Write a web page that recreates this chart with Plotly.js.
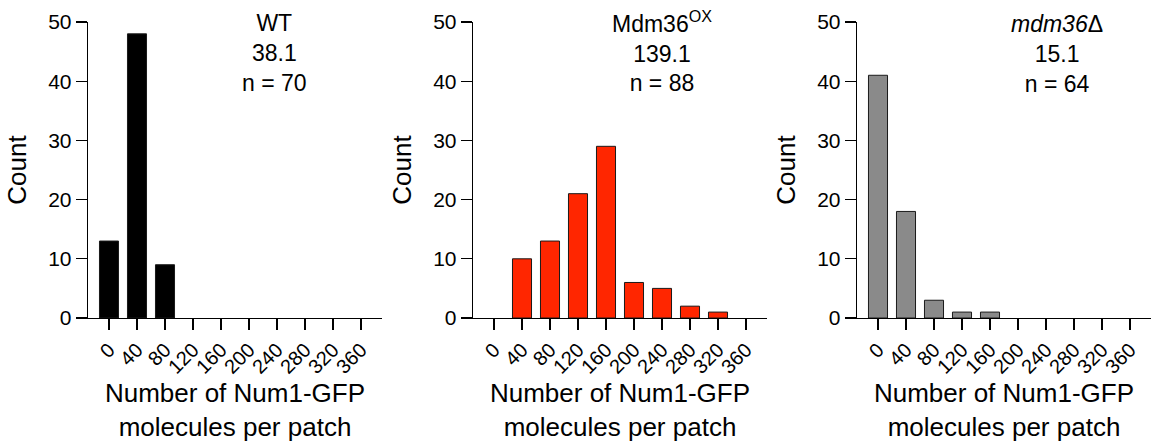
<!DOCTYPE html>
<html>
<head>
<meta charset="utf-8">
<script src="https://cdn.plot.ly/plotly-3.0.1.min.js"></script>
<style>html,body{margin:0;padding:0;background:#fff;}#chart{width:1155px;height:442px;}</style>
</head>
<body>
<div id="chart"></div>
<script>
// Bin centres (Num1-GFP molecules per patch)
const bins = [0, 40, 80, 120, 160, 200, 240, 280, 320, 360];
const tickLabels = ["0", "40", "80", "120", "160", "200", "240", "280", "320", "360"];
// Counts per bin
const countsWT = [13, 48, 9, 0, 0, 0, 0, 0, 0, 0];
const countsOX = [0, 10, 13, 21, 29, 6, 5, 2, 1, 0];
const countsDel = [41, 18, 3, 1, 1, 0, 0, 0, 0, 0];
// Panel labels
const panelNames = ["WT", "Mdm36<sup>OX</sup>", "<i>mdm36</i>Δ"];
const panelMeans = ["38.1", "139.1", "15.1"];
const panelN = ["n = 70", "n = 88", "n = 64"];

const W = 1155, H = 442;
const FONT = "Liberation Sans, Arial, sans-serif";
const colors = ["#000000", "#ff2600", "#8a8a8a"];
const series = [countsWT, countsOX, countsDel];
const domainsPx = [[88, 382], [473, 767], [857, 1151]];
const yTopPx = 22, yBotPx = 318;

const traces = series.map((vals, i) => ({
  type: "bar",
  x: bins,
  y: vals,
  xaxis: i === 0 ? "x" : "x" + (i + 1),
  yaxis: i === 0 ? "y" : "y" + (i + 1),
  marker: {color: colors[i], line: {color: "#1a1a1a", width: vals.map(v => v > 0 ? 1 : 0)}},
  showlegend: false,
  hoverinfo: "x+y"
}));

const layout = {
  width: W, height: H,
  margin: {l: 0, r: 0, t: 0, b: 0},
  paper_bgcolor: "#fff", plot_bgcolor: "#fff",
  bargap: 0.32,
  font: {family: FONT, color: "#000"},
  showlegend: false,
  annotations: []
};

const titleCenters = [274, 662, 1057];
const titleTopPx = [8, 5, 9];

for (let i = 0; i < 3; i++) {
  const sfx = i === 0 ? "" : String(i + 1);
  layout["xaxis" + sfx] = {
    domain: [domainsPx[i][0] / W, domainsPx[i][1] / W],
    anchor: "y" + sfx,
    range: [-30, 390],
    tickvals: bins,
    ticktext: tickLabels,
    tickangle: -45,
    tickfont: {size: 20, family: FONT, color: "#000"},
    ticks: "outside", ticklen: 11, tickwidth: 1.3, tickcolor: "#000",
    showline: true, linecolor: "#000", linewidth: 1.3,
    showgrid: false, zeroline: false,
    title: {text: "Number of Num1-GFP<br>molecules per patch", font: {size: 26, family: FONT, color: "#000"}, standoff: 4},
    fixedrange: true
  };
  layout["yaxis" + sfx] = {
    domain: [1 - yBotPx / H, 1 - yTopPx / H],
    anchor: "x" + sfx,
    range: [0, 50],
    tickvals: [0, 10, 20, 30, 40, 50],
    tickfont: {size: 21, family: FONT, color: "#000"},
    ticks: "outside", ticklen: 11, tickwidth: 1.3, tickcolor: "#000",
    showline: true, linecolor: "#000", linewidth: 1.3,
    showgrid: false, zeroline: false,
    title: {text: "Count", font: {size: 26, family: FONT, color: "#000"}, standoff: 14},
    fixedrange: true
  };
  layout.annotations.push({
    xref: "paper", yref: "paper",
    x: titleCenters[i] / W, y: 1 - titleTopPx[i] / H,
    xanchor: "center", yanchor: "top",
    text: panelNames[i] + "<br>" + panelMeans[i] + "<br>" + panelN[i],
    align: "center", showarrow: false,
    font: {size: 23, family: FONT, color: "#000"}
  });
}

Plotly.newPlot("chart", traces, layout, {displayModeBar: false, staticPlot: true});
</script>
</body>
</html>
